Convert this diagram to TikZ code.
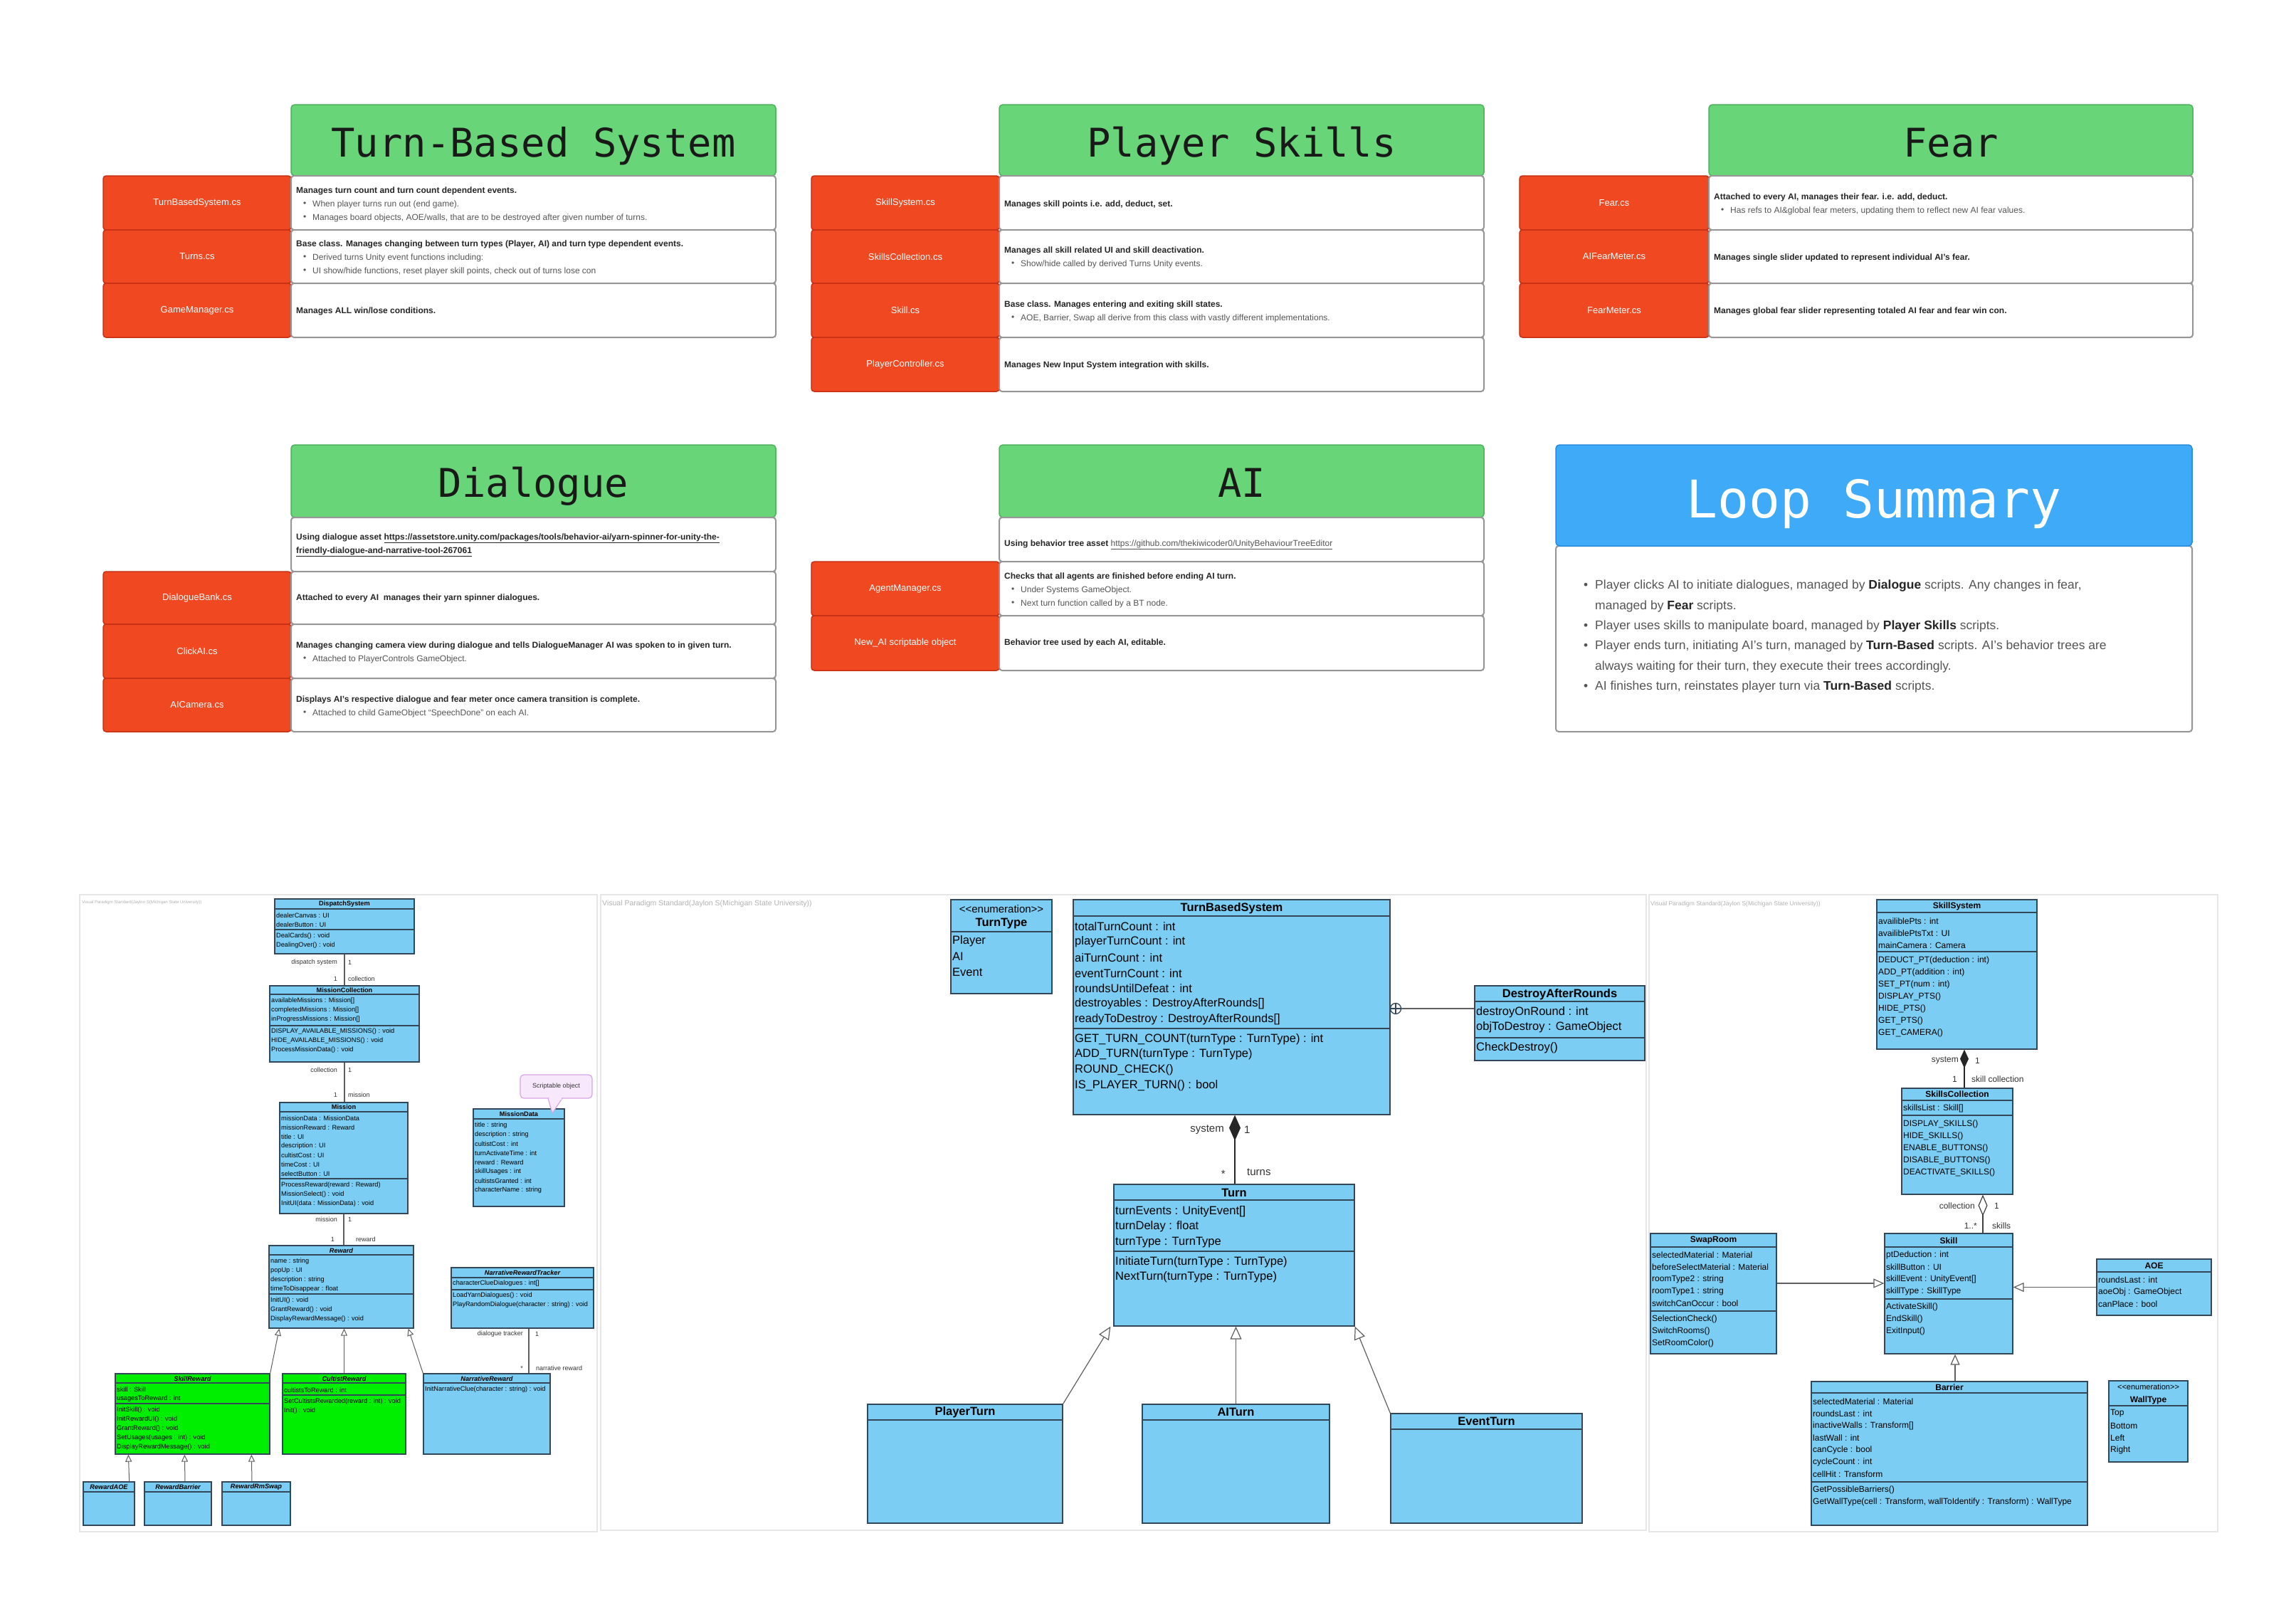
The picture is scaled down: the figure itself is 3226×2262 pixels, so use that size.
\documentclass[tikz,border=0pt]{standalone}
\usepackage{fontspec}
\setmainfont{Liberation Sans}
\newfontfamily\monofont{DejaVu Sans Mono}
\usetikzlibrary{fit,arrows.meta}
\definecolor{hdrgreen}{RGB}{104,213,120}
\definecolor{hdrborder}{RGB}{78,178,92}
\definecolor{redcell}{RGB}{240,72,32}
\definecolor{redborder}{RGB}{200,48,20}
\definecolor{cellborder}{RGB}{150,150,150}
\definecolor{loopblue}{RGB}{62,170,248}
\definecolor{loopborder}{RGB}{40,140,220}
\definecolor{umlblue}{RGB}{124,205,243}
\definecolor{umlgreen}{RGB}{0,238,0}
\definecolor{umlline}{RGB}{50,72,88}
\definecolor{conline}{RGB}{95,95,95}
\definecolor{txtgray}{RGB}{85,85,85}
\definecolor{notefill}{RGB}{248,232,252}
\definecolor{noteborder}{RGB}{215,165,232}
\definecolor{framecol}{RGB}{230,230,230}

\newcommand{\pbx}[6]{\node[#1, fit={(#3,#4) (#5,#6)}, inner sep=0pt] (#2) {};}
\newcommand{\pbul}[3]{\node[bl] at ({#1+10},{#2}) {•}; \node[bl] at ({#1+23},{#2}) {#3};}
\newcommand{\umlcls}[9]{\node[umlbox, fill=#6, fit={(#2,#3) (#4,#5)}, inner sep=0pt] (#1) {};
  \node[#9] at ({(#2+#4)/2},{#8}) {#7};}
\newcommand{\umlsep}[3]{\draw[usepst] ({#1},{#3}) -- ({#2},{#3});}
\newcommand{\umllines}[5]{\foreach \utxt [count=\uidx from 0] in {#5} {\node[#1] at ({#2},{#3+\uidx*#4}) {\utxt};}}
\newcommand{\lbold}[1]{\textbf{\textcolor{black!85}{#1}}}
\newcommand{\enumst}{<{}<enumeration>{}>}

\tikzset{
 hdr/.style={draw=hdrborder, fill=hdrgreen, rounded corners=5pt, line width=1.5pt},
 redc/.style={draw=redborder, fill=redcell, rounded corners=4pt, line width=1.5pt},
 whc/.style={draw=cellborder, fill=white, rounded corners=4pt, line width=2pt},
 loophdr/.style={draw=loopborder, fill=loopblue, rounded corners=5pt, line width=1.5pt},
 hdrtxt/.style={anchor=base, inner sep=0pt, font=\monofont\fontsize{55.5}{60}\selectfont, text=black!90},
 looptxt/.style={anchor=base, inner sep=0pt, font=\monofont\fontsize{73}{80}\selectfont, text=white},
 redtxt/.style={inner sep=0pt, font=\fontsize{13}{15}\selectfont, text=white},
 bt/.style={anchor=west, inner sep=0pt, font=\fontsize{12}{14}\selectfont\bfseries, text=black!85},
 bl/.style={anchor=west, inner sep=0pt, font=\fontsize{12}{14}\selectfont, text=txtgray},
 ls/.style={anchor=west, inner sep=0pt, font=\fontsize{17.5}{20}\selectfont, text=txtgray},
 umlframe/.style={draw=framecol, line width=1.5pt},
 wm/.style={anchor=west, inner sep=0pt, text=gray!60},
 umlbox/.style={draw=umlline, line width=1.3pt},
 usepst/.style={draw=umlline, line width=1.8pt},
 notest/.style={draw=noteborder, fill=notefill, rounded corners=5pt, line width=1.2pt},
 mT/.style={inner sep=0pt, font=\fontsize{16.5}{18}\selectfont\bfseries},
 mA/.style={anchor=west, inner sep=0pt, font=\fontsize{16.5}{18}\selectfont},
 mL/.style={inner sep=0pt, font=\fontsize{15}{17}\selectfont, text=black!80},
 rT/.style={inner sep=0pt, font=\fontsize{12}{14}\selectfont\bfseries},
 rA/.style={anchor=west, inner sep=0pt, font=\fontsize{12}{14}\selectfont},
 rL/.style={inner sep=0pt, font=\fontsize{12}{14}\selectfont, text=black!80},
 lT/.style={inner sep=0pt, font=\fontsize{9.2}{11}\selectfont\bfseries},
 lTi/.style={inner sep=0pt, font=\fontsize{9.2}{11}\selectfont\bfseries\itshape},
 lA/.style={anchor=west, inner sep=0pt, font=\fontsize{9.2}{11}\selectfont},
 lL/.style={inner sep=0pt, font=\fontsize{9}{11}\selectfont, text=black!80},
 assoc/.style={draw=conline, line width=1.2pt},
 genM/.style={draw=conline, line width=1.2pt, -{Triangle[open, fill=white, length=18pt, width=16pt]}},
 genR/.style={draw=conline, line width=1.2pt, -{Triangle[open, fill=white, length=15pt, width=13pt]}},
 genL/.style={draw=conline, line width=1pt, -{Triangle[open, fill=white, length=10pt, width=9pt]}},
 compM/.style={draw=black!85, line width=1.2pt, {Diamond[length=36pt, width=16pt]}-},
 compR/.style={draw=black!85, line width=1.2pt, {Diamond[length=26pt, width=12pt]}-},
 aggR/.style={draw=black!75, line width=1.2pt, {Diamond[open, fill=white, length=30pt, width=13pt]}-},
}

\begin{document}
\begin{tikzpicture}[x=1pt,y=-1pt]
\useasboundingbox (0,0) rectangle (3226,2262);
\fill[white] (0,0) rectangle (3226,2262);

% ===== Turn-Based System =====
\pbx{hdr}{tbH}{409}{147}{1090}{247}
\node[hdrtxt] at (749.5,220) {Turn-Based System};
\pbx{redc}{tbR1}{145}{247}{409}{323}
\pbx{whc}{tbW1}{409}{247}{1090}{323}
\node[redtxt] at (tbR1.center) {TurnBasedSystem.cs};
\node[bt] at (416,268) {Manages turn count and turn count dependent events.};
\pbul{416}{287}{When player turns run out (end game).}
\pbul{416}{306}{Manages board objects, AOE/walls, that are to be destroyed after given number of turns.}
\pbx{redc}{tbR2}{145}{323}{409}{398}
\pbx{whc}{tbW2}{409}{323}{1090}{398}
\node[redtxt] at (tbR2.center) {Turns.cs};
\node[bt] at (416,343) {Base class. Manages changing between turn types (Player, AI) and turn type dependent events.};
\pbul{416}{362}{Derived turns Unity event functions including:}
\pbul{416}{381}{UI show/hide functions, reset player skill points, check out of turns lose con}
\pbx{redc}{tbR3}{145}{398}{409}{474}
\pbx{whc}{tbW3}{409}{398}{1090}{474}
\node[redtxt] at (tbR3.center) {GameManager.cs};
\node[bt] at (416,437) {Manages ALL win/lose conditions.};

% ===== Player Skills =====
\pbx{hdr}{psH}{1404}{147}{2085}{247}
\node[hdrtxt] at (1744.5,220) {Player Skills};
\pbx{redc}{psR1}{1140}{247}{1404}{323}
\pbx{whc}{psW1}{1404}{247}{2085}{323}
\node[redtxt] at (psR1.center) {SkillSystem.cs};
\node[bt] at (1411,287) {Manages skill points i.e. add, deduct, set.};
\pbx{redc}{psR2}{1140}{323}{1404}{398}
\pbx{whc}{psW2}{1404}{323}{2085}{398}
\node[redtxt] at (psR2.center) {SkillsCollection.cs};
\node[bt] at (1411,352) {Manages all skill related UI and skill deactivation.};
\pbul{1411}{371}{Show/hide called by derived Turns Unity events.}
\pbx{redc}{psR3}{1140}{398}{1404}{474}
\pbx{whc}{psW3}{1404}{398}{2085}{474}
\node[redtxt] at (psR3.center) {Skill.cs};
\node[bt] at (1411,428) {Base class. Manages entering and exiting skill states.};
\pbul{1411}{447}{AOE, Barrier, Swap all derive from this class with vastly different implementations.}
\pbx{redc}{psR4}{1140}{474}{1404}{550}
\pbx{whc}{psW4}{1404}{474}{2085}{550}
\node[redtxt] at (psR4.center) {PlayerController.cs};
\node[bt] at (1411,513) {Manages New Input System integration with skills.};

% ===== Fear =====
\pbx{hdr}{frH}{2401}{147}{3081}{247}
\node[hdrtxt] at (2741,220) {Fear};
\pbx{redc}{frR1}{2135}{247}{2401}{323}
\pbx{whc}{frW1}{2401}{247}{3081}{323}
\node[redtxt] at (frR1.center) {Fear.cs};
\node[bt] at (2408,277) {Attached to every AI, manages their fear. i.e. add, deduct.};
\pbul{2408}{296}{Has refs to AI\&global fear meters, updating them to reflect new AI fear values.}
\pbx{redc}{frR2}{2135}{323}{2401}{398}
\pbx{whc}{frW2}{2401}{323}{3081}{398}
\node[redtxt] at (frR2.center) {AIFearMeter.cs};
\node[bt] at (2408,362) {Manages single slider updated to represent individual AI's fear.};
\pbx{redc}{frR3}{2135}{398}{2401}{474}
\pbx{whc}{frW3}{2401}{398}{3081}{474}
\node[redtxt] at (frR3.center) {FearMeter.cs};
\node[bt] at (2408,437) {Manages global fear slider representing totaled AI fear and fear win con.};

% ===== Dialogue =====
\pbx{hdr}{dlH}{409}{625}{1090}{727}
\node[hdrtxt] at (749.5,698) {Dialogue};
\pbx{whc}{dlW0}{409}{727}{1090}{803}
\node[bt] at (416,756) {Using dialogue asset \underline{https://assetstore.unity.com/packages/tools/behavior-ai/yarn-spinner-for-unity-the-}};
\node[bt] at (416,775) {\underline{friendly-dialogue-and-narrative-tool-267061}};
\pbx{redc}{dlR1}{145}{803}{409}{877}
\pbx{whc}{dlW1}{409}{803}{1090}{877}
\node[redtxt] at (dlR1.center) {DialogueBank.cs};
\node[bt] at (416,840) {Attached to every AI\ \ manages their yarn spinner dialogues.};
\pbx{redc}{dlR2}{145}{877}{409}{953}
\pbx{whc}{dlW2}{409}{877}{1090}{953}
\node[redtxt] at (dlR2.center) {ClickAI.cs};
\node[bt] at (416,907) {Manages changing camera view during dialogue and tells DialogueManager AI was spoken to in given turn.};
\pbul{416}{926}{Attached to PlayerControls GameObject.}
\pbx{redc}{dlR3}{145}{953}{409}{1028}
\pbx{whc}{dlW3}{409}{953}{1090}{1028}
\node[redtxt] at (dlR3.center) {AICamera.cs};
\node[bt] at (416,983) {Displays AI's respective dialogue and fear meter once camera transition is complete.};
\pbul{416}{1002}{Attached to child GameObject “SpeechDone” on each AI.}

% ===== AI =====
\pbx{hdr}{aiH}{1404}{625}{2085}{727}
\node[hdrtxt] at (1744.5,698) {AI};
\pbx{whc}{aiW0}{1404}{727}{2085}{789}
\node[bt] at (1411,765) {Using behavior tree asset {\mdseries\color{txtgray}\underline{https://github.com/thekiwicoder0/UnityBehaviourTreeEditor}}};
\pbx{redc}{aiR1}{1140}{789}{1404}{865}
\pbx{whc}{aiW1}{1404}{789}{2085}{865}
\node[redtxt] at (aiR1.center) {AgentManager.cs};
\node[bt] at (1411,810) {Checks that all agents are finished before ending AI turn.};
\pbul{1411}{829}{Under Systems GameObject.}
\pbul{1411}{848}{Next turn function called by a BT node.}
\pbx{redc}{aiR2}{1140}{865}{1404}{942}
\pbx{whc}{aiW2}{1404}{865}{2085}{942}
\node[redtxt] at (aiR2.center) {New\_AI scriptable object};
\node[bt] at (1411,903) {Behavior tree used by each AI, editable.};

% ===== Loop Summary =====
\pbx{whc}{lpB}{2186}{767}{3080}{1028}
\pbx{loophdr}{lpH}{2186}{625}{3080}{767}
\node[looptxt] at (2633,727) {Loop Summary};
\node[ls] at (2225,823) {•};
\node[ls] at (2241,823) {Player clicks AI to initiate dialogues, managed by \lbold{Dialogue} scripts. Any changes in fear,};
\node[ls] at (2241,852) {managed by \lbold{Fear} scripts.};
\node[ls] at (2225,880) {•};
\node[ls] at (2241,880) {Player uses skills to manipulate board, managed by \lbold{Player Skills} scripts.};
\node[ls] at (2225,908) {•};
\node[ls] at (2241,908) {Player ends turn, initiating AI's turn, managed by \lbold{Turn-Based} scripts. AI's behavior trees are};
\node[ls] at (2241,937) {always waiting for their turn, they execute their trees accordingly.};
\node[ls] at (2225,965) {•};
\node[ls] at (2241,965) {AI finishes turn, reinstates player turn via \lbold{Turn-Based} scripts.};

% ===== UML frames =====
\pbx{umlframe}{frameL}{112}{1257}{839}{2152}
\pbx{umlframe}{frameM}{844}{1257}{2313}{2150}
\pbx{umlframe}{frameR}{2317}{1257}{3116}{2152}
\node[wm, font=\fontsize{6}{7}\selectfont] at (115,1268) {Visual Paradigm Standard(Jaylon S(Michigan State University))};
\node[wm, font=\fontsize{10.5}{12}\selectfont] at (846,1270) {Visual Paradigm Standard(Jaylon S(Michigan State University))};
\node[wm, font=\fontsize{8.5}{10}\selectfont] at (2319,1270) {Visual Paradigm Standard(Jaylon S(Michigan State University))};

% ===== Left UML =====
\umlcls{DS}{386}{1263}{582}{1340}{umlblue}{DispatchSystem}{1270}{lT}
\umlsep{386}{582}{1277}
\umllines{lA}{388}{1286}{13}{dealerCanvas : UI, dealerButton : UI}
\umlsep{386}{582}{1306}
\umllines{lA}{388}{1315}{13}{DealCards() : void, DealingOver() : void}

\umlcls{MC}{379}{1385}{589}{1492}{umlblue}{MissionCollection}{1391}{lT}
\umlsep{379}{589}{1397}
\umllines{lA}{381}{1406}{13}{availableMissions : Mission[], completedMissions : Mission[], inProgressMissions : Mission[]}
\umlsep{379}{589}{1441}
\umllines{lA}{381}{1449}{13}{DISPLAY\_AVAILABLE\_MISSIONS() : void, HIDE\_AVAILABLE\_MISSIONS() : void, ProcessMissionData() : void}

\umlcls{MS}{393}{1549}{573}{1705}{umlblue}{Mission}{1555}{lT}
\umlsep{393}{573}{1562}
\umllines{lA}{395}{1571}{13}{missionData : MissionData, missionReward : Reward, title : UI, description : UI, cultistCost : UI, timeCost : UI, selectButton : UI}
\umlsep{393}{573}{1656}
\umllines{lA}{395}{1665}{13}{ProcessReward(reward : Reward), MissionSelect() : void, InitUI(data : MissionData) : void}

\umlcls{MD}{665}{1558}{793}{1695}{umlblue}{MissionData}{1565}{lT}
\umlsep{665}{793}{1572}
\umllines{lA}{667}{1581}{13}{title : string, description : string, cultistCost : int, turnActivateTime : int, reward : Reward, skillUsages : int, cultistsGranted : int, characterName : string}

\pbx{notest}{NT}{731}{1510}{832}{1543}
\filldraw[fill=notefill, draw=noteborder, line width=1.2pt] (770,1543) -- (776,1564) -- (790,1543);
\fill[notefill] (771.5,1541.2) rectangle (788.5,1544.5);
\node[lL] at (NT.center) {Scriptable object};

\umlcls{RW}{378}{1750}{581}{1866}{umlblue}{Reward}{1757}{lTi}
\umlsep{378}{581}{1763}
\umllines{lA}{380}{1772}{13}{name : string, popUp : UI, description : string, timeToDisappear : float}
\umlsep{378}{581}{1818}
\umllines{lA}{380}{1827}{13}{InitUI() : void, GrantReward() : void, DisplayRewardMessage() : void}

\umlcls{NRT}{634}{1781}{834}{1866}{umlblue}{NarrativeRewardTracker}{1788}{lTi}
\umlsep{634}{834}{1795}
\umllines{lA}{636}{1803}{13}{characterClueDialogues : int[]}
\umlsep{634}{834}{1812}
\umllines{lA}{636}{1820}{13}{LoadYarnDialogues() : void, PlayRandomDialogue(character : string) : void}

\umlcls{SR}{162}{1930}{379}{2043}{umlgreen}{SkillReward}{1937}{lTi}
\umlsep{162}{379}{1943}
\umllines{lA}{164}{1952}{13}{skill : Skill, usagesToReward : int}
\umlsep{162}{379}{1972}
\umllines{lA}{164}{1981}{13}{InitSkill() : void, InitRewardUI() : void, GrantReward() : void, SetUsages(usages : int) : void, DisplayRewardMessage() : void}

\umlcls{CR}{397}{1930}{570}{2043}{umlgreen}{CultistReward}{1937}{lTi}
\umlsep{397}{570}{1943}
\umllines{lA}{399}{1953}{13}{cultistsToReward : int}
\umlsep{397}{570}{1960}
\umllines{lA}{399}{1969}{13}{SetCultistsRewarded(reward : int) : void, Init() : void}

\umlcls{NR}{595}{1930}{773}{2043}{umlblue}{NarrativeReward}{1937}{lTi}
\umlsep{595}{773}{1943}
\umllines{lA}{597}{1952}{13}{InitNarrativeClue(character : string) : void}

\umlcls{RA}{117}{2082}{189}{2143}{umlblue}{RewardAOE}{2089}{lTi}
\umlsep{117}{189}{2096}
\umlcls{RB}{203}{2082}{297}{2143}{umlblue}{RewardBarrier}{2089}{lTi}
\umlsep{203}{297}{2096}
\umlcls{RS}{312}{2082}{408}{2143}{umlblue}{RewardRmSwap}{2089}{lTi}
\umlsep{312}{408}{2096}

\draw[assoc] (DS.south) -- (DS.south |- MC.north);
\node[lL, anchor=east] at (474,1352) {dispatch system};
\node[lL, anchor=west] at (489,1352) {1};
\node[lL, anchor=east] at (474,1375) {1};
\node[lL, anchor=west] at (489,1375) {collection};
\draw[assoc] (MC.south) -- (MC.south |- MS.north);
\node[lL, anchor=east] at (474,1503) {collection};
\node[lL, anchor=west] at (489,1503) {1};
\node[lL, anchor=east] at (474,1538) {1};
\node[lL, anchor=west] at (489,1538) {mission};
\draw[assoc] (MS.south) -- (MS.south |- RW.north);
\node[lL, anchor=east] at (474,1713) {mission};
\node[lL, anchor=west] at (489,1713) {1};
\node[lL, anchor=east] at (470,1741) {1};
\node[lL, anchor=west] at (500,1741) {reward};
\draw[assoc] ([xshift=9pt]NRT.south) -- ([xshift=59pt]NR.north);
\node[lL, anchor=east] at (735,1874) {dialogue tracker};
\node[lL, anchor=west] at (752,1874) {1};
\node[lL, anchor=east] at (735,1922) {*};
\node[lL, anchor=west] at (753,1922) {narrative reward};

\draw[genL] (SR.north east) -- ([xshift=15pt]RW.south west);
\draw[genL] (CR.north) -- (CR.north |- RW.south);
\draw[genL] (NR.north west) -- ([xshift=-8pt]RW.south east);
\draw[genL] ([xshift=-8pt]RA.north east) -- ([xshift=19pt]SR.south west);
\draw[genL] ([xshift=10pt]RB.north) -- ([xshift=98pt]SR.south west);
\draw[genL] ([xshift=-6pt]RS.north) -- ([xshift=192pt]SR.south west);

% ===== Middle UML =====
\pbx{umlbox, fill=umlblue}{TT}{1336}{1264}{1478}{1396}
\node[inner sep=0pt, font=\fontsize{15}{17}\selectfont] at (1407,1277) {\enumst};
\node[mT] at (1407,1298) {TurnType};
\umlsep{1336}{1478}{1309}
\umllines{mA}{1338}{1322}{22}{Player, AI, Event}

\umlcls{TBS}{1508}{1264}{1953}{1566}{umlblue}{TurnBasedSystem}{1276}{mT}
\umlsep{1508}{1953}{1287}
\umllines{mA}{1510}{1302}{21.7}{totalTurnCount : int, playerTurnCount : int, aiTurnCount : int, eventTurnCount : int, roundsUntilDefeat : int, destroyables : DestroyAfterRounds[], readyToDestroy : DestroyAfterRounds[]}
\umlsep{1508}{1953}{1445}
\umllines{mA}{1510}{1460}{21.7}{GET\_TURN\_COUNT(turnType : TurnType) : int, ADD\_TURN(turnType : TurnType), ROUND\_CHECK(), IS\_PLAYER\_TURN() : bool}

\umlcls{DAR}{2072}{1385}{2311}{1490}{umlblue}{DestroyAfterRounds}{1397}{mT}
\umlsep{2072}{2311}{1407}
\umllines{mA}{2074}{1422}{21.5}{destroyOnRound : int, objToDestroy : GameObject}
\umlsep{2072}{2311}{1458}
\umllines{mA}{2074}{1472}{21.5}{CheckDestroy()}

\umlcls{TN}{1565}{1664}{1903}{1863}{umlblue}{Turn}{1676}{mT}
\umlsep{1565}{1903}{1686}
\umllines{mA}{1567}{1702}{21.7}{turnEvents : UnityEvent[], turnDelay : float, turnType : TurnType}
\umlsep{1565}{1903}{1758}
\umllines{mA}{1567}{1773}{21.7}{InitiateTurn(turnType : TurnType), NextTurn(turnType : TurnType)}

\umlcls{PT}{1219}{1973}{1493}{2140}{umlblue}{PlayerTurn}{1984}{mT}
\umlsep{1219}{1493}{1995}
\umlcls{AT}{1605}{1973}{1868}{2140}{umlblue}{AITurn}{1984}{mT}
\umlsep{1605}{1868}{1995}
\umlcls{ET}{1954}{1986}{2223}{2140}{umlblue}{EventTurn}{1997}{mT}
\umlsep{1954}{2223}{2008}

\node[circle, draw=umlline, line width=1.3pt, fill=white, minimum size=15pt, inner sep=0pt] (nest) at (1961,1417) {};
\draw[umlline, line width=1.2pt] (nest.north) -- (nest.south) (nest.west) -- (nest.east);
\draw[assoc] (nest.east) -- (nest.east -| DAR.west);

\draw[compM] ([xshift=4.5pt]TBS.south) -- ([xshift=1pt]TN.north);
\node[mL, anchor=east] at (1720,1587) {system};
\node[mL, anchor=west] at (1748,1587) {1};
\node[mL, anchor=east] at (1722,1649) {*};
\node[mL, anchor=west] at (1752,1647) {turns};

\draw[genM] (PT.north east) -- ([xshift=-4pt]TN.south west);
\draw[genM] (AT.north) -- (AT.north |- TN.south);
\draw[genM] (ET.north west) -- (TN.south east);

% ===== Right UML =====
\umlcls{SS}{2637}{1264}{2862}{1474}{umlblue}{SkillSystem}{1273}{rT}
\umlsep{2637}{2862}{1282}
\umllines{rA}{2639}{1294}{17}{availiblePts : int, availiblePtsTxt : UI, mainCamera : Camera}
\umlsep{2637}{2862}{1337}
\umllines{rA}{2639}{1349}{17}{DEDUCT\_PT(deduction : int), ADD\_PT(addition : int), SET\_PT(num : int), DISPLAY\_PTS(), HIDE\_PTS(), GET\_PTS(), GET\_CAMERA()}

\umlcls{SC}{2672}{1529}{2828}{1678}{umlblue}{SkillsCollection}{1537}{rT}
\umlsep{2672}{2828}{1546}
\umllines{rA}{2674}{1557}{17}{skillsList : Skill[]}
\umlsep{2672}{2828}{1567}
\umllines{rA}{2674}{1579}{17}{DISPLAY\_SKILLS(), HIDE\_SKILLS(), ENABLE\_BUTTONS(), DISABLE\_BUTTONS(), DEACTIVATE\_SKILLS()}

\umlcls{SK}{2648}{1733}{2828}{1902}{umlblue}{Skill}{1743}{rT}
\umlsep{2648}{2828}{1752}
\umllines{rA}{2650}{1763}{17}{ptDeduction : int, skillButton : UI, skillEvent : UnityEvent[], skillType : SkillType}
\umlsep{2648}{2828}{1825}
\umllines{rA}{2650}{1836}{17}{ActivateSkill(), EndSkill(), ExitInput()}

\umlcls{SW}{2319}{1733}{2496}{1902}{umlblue}{SwapRoom}{1743}{rT}
\umlsep{2319}{2496}{1752}
\umllines{rA}{2321}{1763}{17}{selectedMaterial : Material, beforeSelectMaterial : Material, roomType2 : string, roomType1 : string, switchCanOccur : bool}
\umlsep{2319}{2496}{1842}
\umllines{rA}{2321}{1853}{17}{SelectionCheck(), SwitchRooms(), SetRoomColor()}

\umlcls{AOE}{2946}{1769}{3107}{1848}{umlblue}{AOE}{1778}{rT}
\umlsep{2946}{3107}{1787}
\umllines{rA}{2948}{1798}{17}{roundsLast : int, aoeObj : GameObject, canPlace : bool}

\umlcls{BR}{2545}{1941}{2933}{2143}{umlblue}{Barrier}{1949}{rT}
\umlsep{2545}{2933}{1957}
\umllines{rA}{2547}{1969}{17}{selectedMaterial : Material, roundsLast : int, inactiveWalls : Transform[], lastWall : int, canCycle : bool, cycleCount : int, cellHit : Transform}
\umlsep{2545}{2933}{2082}
\umllines{rA}{2547}{2093}{17}{GetPossibleBarriers(), {GetWallType(cell : Transform, wallToIdentify : Transform) : WallType}}

\pbx{umlbox, fill=umlblue}{WT}{2963}{1940}{3074}{2054}
\node[inner sep=0pt, font=\fontsize{11}{13}\selectfont] at (3018.5,1949) {\enumst};
\node[rT] at (3018.5,1967) {WallType};
\umlsep{2963}{3074}{1975}
\umllines{rA}{2965}{1986}{17}{Top, Bottom, Left, Right}

\draw[compR] ([xshift=10.5pt]SS.south) -- ([xshift=10pt]SC.north);
\node[rL, anchor=east] at (2752,1490) {system};
\node[rL, anchor=west] at (2775,1490) {1};
\node[rL, anchor=east] at (2750,1516) {1};
\node[rL, anchor=west] at (2770,1516) {skill collection};
\draw[aggR] ([xshift=36pt]SC.south) -- ([xshift=48pt]SK.north);
\node[rL, anchor=east] at (2775,1694) {collection};
\node[rL, anchor=west] at (2802,1694) {1};
\node[rL, anchor=east] at (2778,1722) {1..*};
\node[rL, anchor=west] at (2799,1722) {skills};

\draw[genR] ([yshift=14.5pt]SW.east) -- ([yshift=14.5pt]SK.west);
\draw[genR] (AOE.west) -- (AOE.west -| SK.east);
\draw[genR] ([xshift=8pt]BR.north) -- ([xshift=9pt]SK.south);
\end{tikzpicture}
\end{document}
